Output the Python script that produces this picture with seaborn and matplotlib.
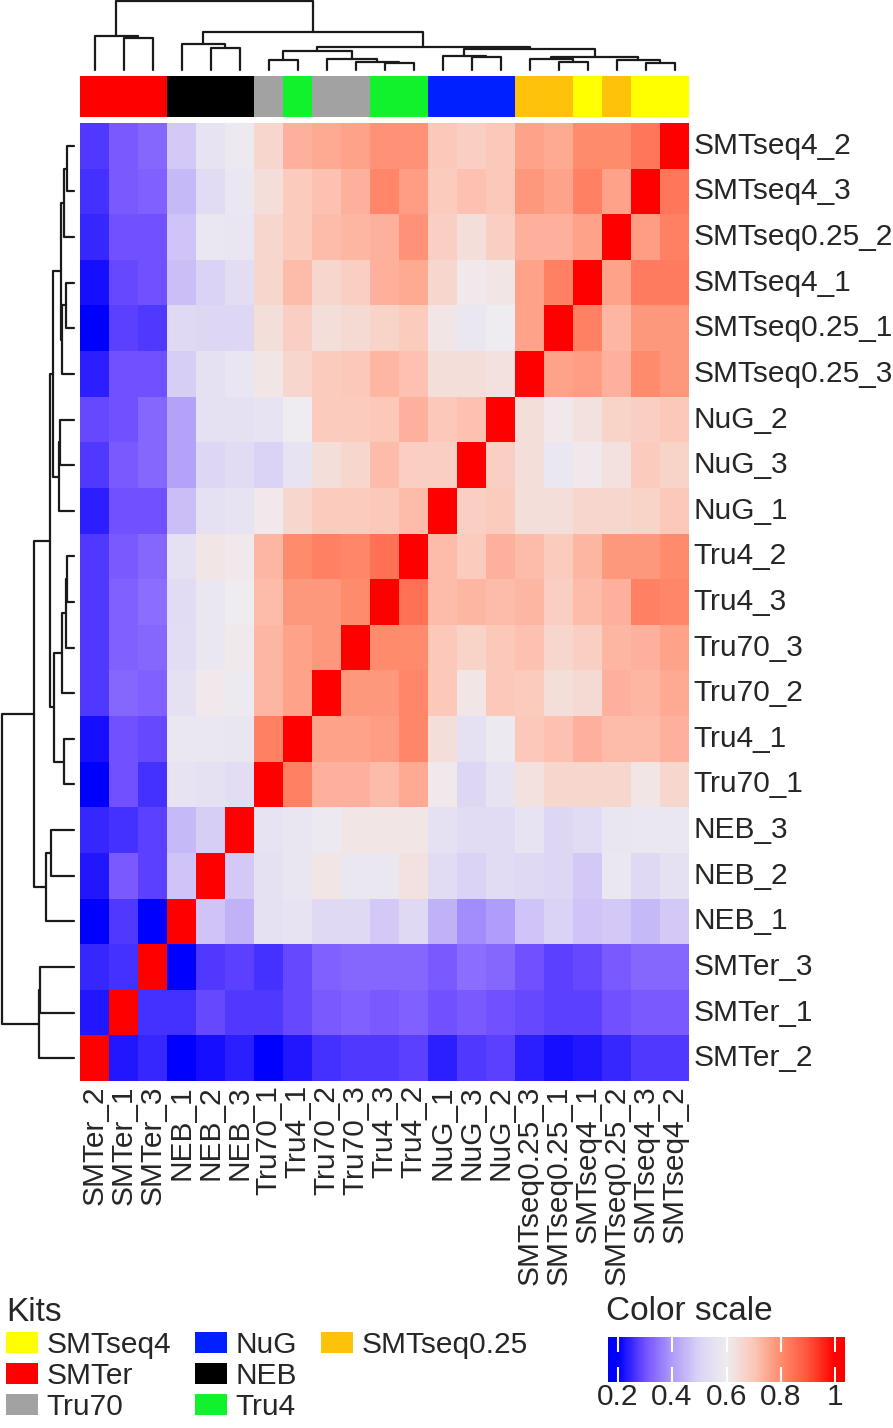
import numpy as np
import pandas as pd
import seaborn as sns
import matplotlib
matplotlib.use("Agg")
import matplotlib.pyplot as plt
from matplotlib.colors import LinearSegmentedColormap, ListedColormap
from matplotlib.patches import Patch

# Samples in heatmap row order (top to bottom); columns are the same samples reversed
rows = ["SMTseq4_2", "SMTseq4_3", "SMTseq0.25_2", "SMTseq4_1", "SMTseq0.25_1",
        "SMTseq0.25_3", "NuG_2", "NuG_3", "NuG_1", "Tru4_2", "Tru4_3", "Tru70_3",
        "Tru70_2", "Tru4_1", "Tru70_1", "NEB_3", "NEB_2", "NEB_1", "SMTer_3",
        "SMTer_1", "SMTer_2"]
cols = rows[::-1]

# correlation values (row order x column order)
corr = [
    [0.27, 0.31, 0.33, 0.48, 0.56, 0.59, 0.66, 0.74, 0.75, 0.76, 0.79, 0.79, 0.70, 0.68, 0.70, 0.76, 0.75, 0.80, 0.80, 0.84, 1.00],
    [0.26, 0.31, 0.32, 0.45, 0.53, 0.58, 0.64, 0.69, 0.71, 0.74, 0.81, 0.77, 0.69, 0.71, 0.70, 0.78, 0.76, 0.82, 0.76, 1.00, 0.84],
    [0.25, 0.30, 0.30, 0.47, 0.58, 0.57, 0.66, 0.69, 0.72, 0.73, 0.74, 0.79, 0.68, 0.64, 0.68, 0.74, 0.74, 0.76, 1.00, 0.77, 0.82],
    [0.22, 0.29, 0.30, 0.46, 0.50, 0.54, 0.66, 0.72, 0.66, 0.68, 0.74, 0.75, 0.66, 0.61, 0.62, 0.76, 0.82, 1.00, 0.76, 0.83, 0.83],
    [0.20, 0.28, 0.27, 0.52, 0.51, 0.51, 0.64, 0.68, 0.64, 0.65, 0.67, 0.69, 0.62, 0.58, 0.60, 0.76, 1.00, 0.82, 0.73, 0.78, 0.78],
    [0.24, 0.30, 0.30, 0.49, 0.55, 0.57, 0.62, 0.66, 0.69, 0.70, 0.73, 0.71, 0.64, 0.64, 0.63, 1.00, 0.76, 0.77, 0.74, 0.80, 0.78],
    [0.29, 0.30, 0.33, 0.41, 0.55, 0.55, 0.56, 0.60, 0.69, 0.69, 0.70, 0.74, 0.70, 0.71, 1.00, 0.64, 0.61, 0.63, 0.67, 0.68, 0.70],
    [0.27, 0.31, 0.33, 0.41, 0.51, 0.53, 0.50, 0.56, 0.64, 0.66, 0.72, 0.68, 0.68, 1.00, 0.68, 0.64, 0.58, 0.61, 0.63, 0.69, 0.67],
    [0.24, 0.30, 0.30, 0.46, 0.55, 0.56, 0.61, 0.66, 0.69, 0.69, 0.70, 0.72, 1.00, 0.68, 0.69, 0.64, 0.64, 0.66, 0.66, 0.67, 0.70],
    [0.27, 0.31, 0.33, 0.55, 0.62, 0.61, 0.73, 0.80, 0.82, 0.81, 0.85, 1.00, 0.72, 0.69, 0.74, 0.72, 0.69, 0.73, 0.78, 0.78, 0.80],
    [0.27, 0.32, 0.34, 0.53, 0.58, 0.60, 0.72, 0.78, 0.78, 0.80, 1.00, 0.85, 0.72, 0.73, 0.72, 0.73, 0.68, 0.72, 0.74, 0.82, 0.81],
    [0.27, 0.32, 0.33, 0.54, 0.58, 0.61, 0.73, 0.76, 0.78, 1.00, 0.80, 0.80, 0.70, 0.67, 0.70, 0.71, 0.66, 0.68, 0.73, 0.74, 0.76],
    [0.27, 0.33, 0.32, 0.55, 0.61, 0.59, 0.73, 0.76, 1.00, 0.78, 0.78, 0.81, 0.70, 0.62, 0.70, 0.69, 0.64, 0.65, 0.74, 0.73, 0.75],
    [0.22, 0.30, 0.29, 0.58, 0.58, 0.57, 0.82, 1.00, 0.76, 0.76, 0.77, 0.81, 0.64, 0.55, 0.59, 0.70, 0.71, 0.74, 0.72, 0.72, 0.74],
    [0.20, 0.30, 0.26, 0.56, 0.55, 0.54, 1.00, 0.82, 0.74, 0.74, 0.72, 0.75, 0.61, 0.51, 0.56, 0.63, 0.66, 0.66, 0.66, 0.62, 0.66],
    [0.25, 0.26, 0.28, 0.45, 0.49, 1.00, 0.56, 0.57, 0.59, 0.62, 0.62, 0.62, 0.55, 0.53, 0.53, 0.56, 0.51, 0.53, 0.57, 0.58, 0.58],
    [0.23, 0.31, 0.28, 0.47, 1.00, 0.48, 0.55, 0.57, 0.62, 0.58, 0.58, 0.63, 0.53, 0.50, 0.53, 0.52, 0.51, 0.48, 0.58, 0.52, 0.55],
    [0.20, 0.27, 0.20, 1.00, 0.47, 0.44, 0.55, 0.56, 0.52, 0.52, 0.48, 0.52, 0.44, 0.38, 0.40, 0.47, 0.50, 0.47, 0.48, 0.45, 0.48],
    [0.25, 0.26, 1.00, 0.20, 0.27, 0.28, 0.26, 0.29, 0.32, 0.33, 0.33, 0.33, 0.31, 0.34, 0.33, 0.30, 0.28, 0.29, 0.31, 0.33, 0.33],
    [0.23, 1.00, 0.26, 0.26, 0.29, 0.27, 0.27, 0.29, 0.31, 0.32, 0.31, 0.32, 0.30, 0.31, 0.30, 0.29, 0.28, 0.28, 0.30, 0.31, 0.31],
    [1.00, 0.23, 0.25, 0.20, 0.22, 0.24, 0.20, 0.23, 0.26, 0.27, 0.27, 0.28, 0.24, 0.27, 0.28, 0.24, 0.22, 0.23, 0.25, 0.27, 0.27],
]

kits = ["SMTseq4", "SMTer", "Tru70", "NuG", "NEB", "Tru4", "SMTseq0.25"]
kit_colors = ["#FFFF00", "#FF0000", "#A2A2A2", "#0020FF", "#000000", "#12F22C", "#FFC20A"]

# hierarchical clustering, (left, right, height relative to root); "#k" = k-th merge
merges = [
    ("SMTseq4_3", "SMTseq4_2", 0.095),
    ("SMTseq0.25_2", "#0", 0.138),
    ("SMTseq0.25_1", "SMTseq4_1", 0.117),
    ("SMTseq0.25_3", "#2", 0.165),
    ("#3", "#1", 0.184),
    ("NuG_3", "NuG_2", 0.188),
    ("NuG_1", "#5", 0.207),
    ("#6", "#4", 0.297),
    ("Tru4_3", "Tru4_2", 0.097),
    ("Tru70_3", "#8", 0.110),
    ("Tru70_2", "#9", 0.163),
    ("Tru70_1", "Tru4_1", 0.141),
    ("#11", "#10", 0.273),
    ("#12", "#7", 0.334),
    ("NEB_2", "NEB_3", 0.316),
    ("NEB_1", "#14", 0.381),
    ("#15", "#13", 0.553),
    ("SMTer_1", "SMTer_3", 0.468),
    ("SMTer_2", "#17", 0.490),
    ("#18", "#16", 1.000),
]

key_ticks = [0.2, 0.4, 0.6, 0.8, 1.0]
key_labels = ["0.2", "0.4", "0.6", "0.8", "1"]

sns.set_style("white")
plt.rcParams['font.family'] = ['Liberation Sans', 'DejaVu Sans']
FS = 21.5   # row / column labels
LFS = 21.5  # legend entries and key ticks
TFS = 24    # legend titles

W, H = 893, 1428
fig = plt.figure(figsize=(W / 100, H / 100), dpi=100)


def box(x0, y0, x1, y1):
    # pixel box (top-left origin) -> figure axes
    return fig.add_axes([x0 / W, 1 - y1 / H, (x1 - x0) / W, (y1 - y0) / H])


cmap = LinearSegmentedColormap.from_list("kitscale", [
    (0.0, "#0000FF"), (0.125, "#7452FF"), (0.25, "#B09CFA"), (0.375, "#DCD4F5"),
    (0.5, "#EEECF0"), (0.625, "#FCC8B8"), (0.75, "#FF8C6E"), (0.875, "#FF553C"),
    (1.0, "#FF0000")])

# main heatmap
df = pd.DataFrame(corr, index=rows, columns=cols)
ax = box(80, 123, 689, 1081)
sns.heatmap(df, ax=ax, cmap=cmap, vmin=0.2, vmax=1.0, cbar=False,
            xticklabels=True, yticklabels=True)
ax.yaxis.tick_right()
ax.set_yticklabels(rows, rotation=0, fontsize=FS, va='center')
ax.set_xticklabels(cols, rotation=90, fontsize=FS)
ax.tick_params(axis='y', length=0, pad=3)
ax.tick_params(axis='x', length=0, pad=3)
ax.set_xlabel('')
ax.set_ylabel('')

# kit colour strip above the columns
ax_side = box(80, 76, 689, 117)
codes = [[kits.index(c.rsplit('_', 1)[0]) for c in cols]]
sns.heatmap(codes, ax=ax_side, cmap=ListedColormap(kit_colors), vmin=-0.5,
            vmax=len(kits) - 0.5, cbar=False, xticklabels=False, yticklabels=False)


def draw_dendro(ax, order, top):
    pos = {name: i + 0.5 for i, name in enumerate(order)}
    hgt = {name: 0.0 for name in order}
    for k, (a, b, h) in enumerate(merges):
        p = [pos[a], pos[a], pos[b], pos[b]]
        q = [hgt[a], h, h, hgt[b]]
        if top:
            ax.plot(p, q, color='#1a1a1a', lw=1.6, clip_on=False)
        else:
            ax.plot(q, p, color='#1a1a1a', lw=1.6, clip_on=False)
        pos["#%d" % k] = (pos[a] + pos[b]) / 2
        hgt["#%d" % k] = h


ax_top = box(80, 0, 689, 70)
draw_dendro(ax_top, cols, True)
ax_top.set_xlim(0, len(cols))
ax_top.set_ylim(0, 1.01)
ax_top.axis('off')

ax_left = box(0, 123, 74, 1081)
draw_dendro(ax_left, rows, False)
ax_left.set_ylim(len(rows), 0)
ax_left.set_xlim(1.023, 0)
ax_left.axis('off')

# kit legend (two blank slots so the columns hold 3, 3 and 1 entries)
handles = [Patch(facecolor=c, edgecolor='none', label=k) for k, c in zip(kits, kit_colors)]
handles += [Patch(facecolor='none', edgecolor='none', label=' ') for _ in range(2)]
fig.legend(handles=handles, title="Kits", ncol=3, loc='upper left',
           bbox_to_anchor=(6 / W, 1 - 1297 / H), frameon=False, fontsize=LFS,
           title_fontsize=TFS, alignment='left', handlelength=1.08, handleheight=0.72,
           handletextpad=0.28, columnspacing=0.8, labelspacing=0.1,
           borderpad=0, borderaxespad=0)

# colour key
fig.text(606 / W, 1 - 1296 / H, "Color scale", ha='left', va='top', fontsize=TFS)
ax_key = box(608, 1337, 845, 1382)
grad = np.linspace(0.165, 1.035, 300)
ax_key.imshow(grad[None, :], aspect='auto', cmap=cmap, vmin=0.2, vmax=1.0,
              extent=[0.165, 1.035, 0, 1])
ax_key.set_xlim(0.165, 1.035)
ax_key.set_xticks(key_ticks, key_labels, fontsize=LFS)
ax_key.set_yticks([])
ax_key.tick_params(axis='x', direction='in', length=11, width=1.5, color='white',
                   top=True, bottom=True, pad=1)
for s in ax_key.spines.values():
    s.set_visible(False)

fig.savefig("out.png", dpi=100)
